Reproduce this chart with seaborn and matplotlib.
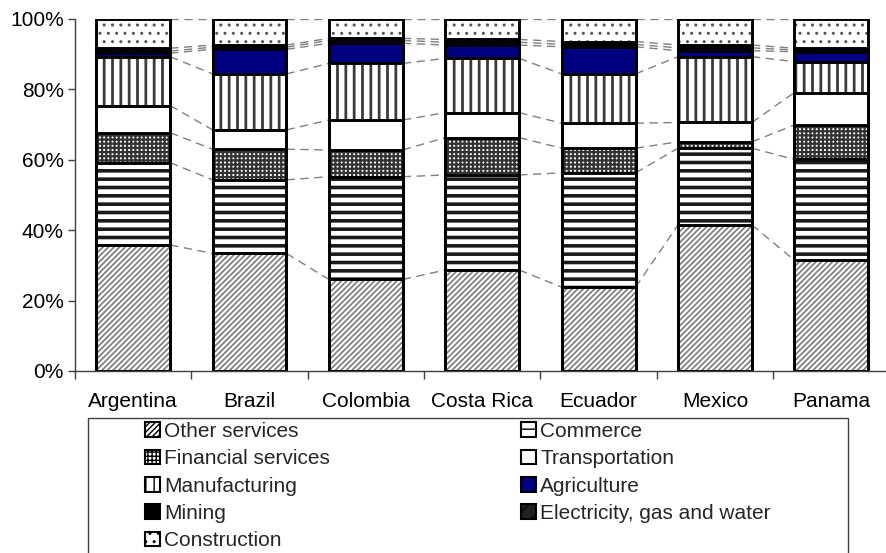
import numpy as np
import pandas as pd
import matplotlib
matplotlib.use("Agg")
import matplotlib.pyplot as plt
from matplotlib.patches import Patch, Rectangle
from matplotlib.ticker import FixedLocator, PercentFormatter
import seaborn as sns

countries = ["Argentina", "Brazil", "Colombia", "Costa Rica", "Ecuador", "Mexico", "Panama"]

# sector shares (%), stacked bottom to top
other_services = [35.8, 33.4, 26.0, 28.7, 23.8, 41.5, 31.5]
commerce = [23.4, 20.9, 29.2, 27.0, 32.5, 21.8, 28.6]
financial_services = [8.5, 8.7, 7.6, 10.6, 7.0, 1.8, 9.8]
transportation = [7.7, 5.5, 8.5, 7.1, 7.1, 5.5, 9.2]
manufacturing = [13.9, 15.9, 16.1, 15.4, 14.0, 18.7, 8.8]
agriculture = [1.0, 7.0, 5.7, 3.8, 7.7, 1.7, 2.8]
mining = [0.6, 0.6, 0.8, 0.8, 0.7, 0.8, 0.5]
electricity = [0.8, 0.6, 0.6, 0.8, 0.8, 0.8, 0.5]
construction = [8.3, 7.4, 5.5, 5.8, 6.4, 7.4, 8.3]

series_names = ["Other services", "Commerce", "Financial services", "Transportation",
                "Manufacturing", "Agriculture", "Mining", "Electricity, gas and water",
                "Construction"]
series_values = [other_services, commerce, financial_services, transportation,
                 manufacturing, agriculture, mining, electricity, construction]

# styles: (facecolor, hatch, hatchcolor, hatch linewidth)
styles = {
    "Other services": ("white", "//////", "#7a7a7a", 1.2),
    "Commerce": ("white", "--", "#1a1a1a", 2.6),
    "Financial services": ("white", "++++", "#333333", 1.6),
    "Transportation": ("white", "", "black", 1.0),
    "Manufacturing": ("white", "||", "#3a3a3a", 2.0),
    "Agriculture": ("#000080", "", "#000080", 1.0),
    "Mining": ("black", "", "black", 1.0),
    "Electricity, gas and water": ("#202020", "//", "white", 1.0),
    "Construction": ("white", "..", "#555555", 1.0),
}

sns.set_theme(style="white")
plt.rcParams["font.family"] = ["Liberation Sans", "DejaVu Sans"]
FS = 15

df = pd.DataFrame(dict(zip(series_names, series_values)), index=countries)
df = df.div(df.sum(axis=1), axis=0)
cum = df.cumsum(axis=1)

fig = plt.figure(figsize=(8.86, 5.53), dpi=100)
ax = fig.add_axes([75 / 886, (553 - 371) / 553, 1 - 75 / 886, 352 / 553])

width = 0.635
# draw cumulative bars from top series down, so each lower series covers the part below
for name in reversed(series_names):
    fc, hatch, hc, hlw = styles[name]
    plot_df = pd.DataFrame({"country": countries, "value": cum[name].values})
    n_before = len(ax.patches)
    plt.rcParams["hatch.linewidth"] = hlw
    sns.barplot(data=plot_df, x="country", y="value", color=fc, saturation=1,
                hatch=hatch if hatch else None, edgecolor=hc, linewidth=0,
                width=width, ax=ax, errorbar=None)
    for p in ax.patches[n_before:]:
        p.set_facecolor(fc)
        if hasattr(p, "set_hatch_linewidth"):
            p.set_hatch_linewidth(hlw)

# segment outlines
for name in series_names:
    plot_df = pd.DataFrame({"country": countries, "value": cum[name].values})
    sns.barplot(data=plot_df, x="country", y="value", fill=False, edgecolor="black",
                linewidth=2.1, width=width, ax=ax, errorbar=None)

# series lines between bars
for name in series_names:
    vals = cum[name].values
    for i in range(len(countries) - 1):
        ax.plot([i + width / 2, i + 1 - width / 2], [vals[i], vals[i + 1]],
                color="#808080", lw=1.0, ls=(0, (6, 4)), zorder=0.5)

ax.set_ylim(0, 1)
ax.set_xlim(-0.5, 6.47)
ax.yaxis.set_major_locator(FixedLocator([0, 0.2, 0.4, 0.6, 0.8, 1.0]))
ax.yaxis.set_major_formatter(PercentFormatter(1.0, decimals=0))
ax.set_xlabel("")
ax.set_ylabel("")
ax.xaxis.set_minor_locator(FixedLocator(np.arange(-0.5, 7, 1.0)))
ax.tick_params(axis="x", which="major", length=0, labelsize=FS, pad=15, colors="black")
ax.tick_params(axis="x", which="minor", length=6, width=1, color="#404040", direction="out", bottom=True)
ax.tick_params(axis="y", which="major", length=5, width=1, color="#404040", direction="out",
               left=True, labelsize=FS, pad=3, labelcolor="black")
for s in ["top", "right"]:
    ax.spines[s].set_visible(False)
for s in ["left", "bottom"]:
    ax.spines[s].set_color("#404040")
    ax.spines[s].set_linewidth(1)
ax.grid(False)

# legend frame (cut by the figure bottom, as in the reference)
fig.patches.append(Rectangle((88 / 886, -0.05), 760 / 886, 0.05 + (553 - 418) / 553,
                             transform=fig.transFigure, fill=False,
                             edgecolor="#404040", linewidth=1.0))

# legend (row-major order in two columns)
plt.rcParams["hatch.linewidth"] = 1.0
order = [0, 2, 4, 6, 8, 1, 3, 5, 7]
handles = []
for k in order:
    name = series_names[k]
    fc, hatch, hc, hlw = styles[name]
    handles.append(Patch(facecolor=fc, hatch=hatch if hatch else None, edgecolor="black",
                         linewidth=1.5, label=name))
leg = fig.legend(handles=handles, loc="upper left", ncol=2,
                 bbox_to_anchor=(145 / 886, 1 - 422 / 553),
                 bbox_transform=fig.transFigure,
                 frameon=False, fontsize=FS, handlelength=0.7,
                 handleheight=0.7, handletextpad=0.2, labelspacing=0.4,
                 columnspacing=9.2, borderpad=0, borderaxespad=0)

fig.savefig("out.png", dpi=100)
